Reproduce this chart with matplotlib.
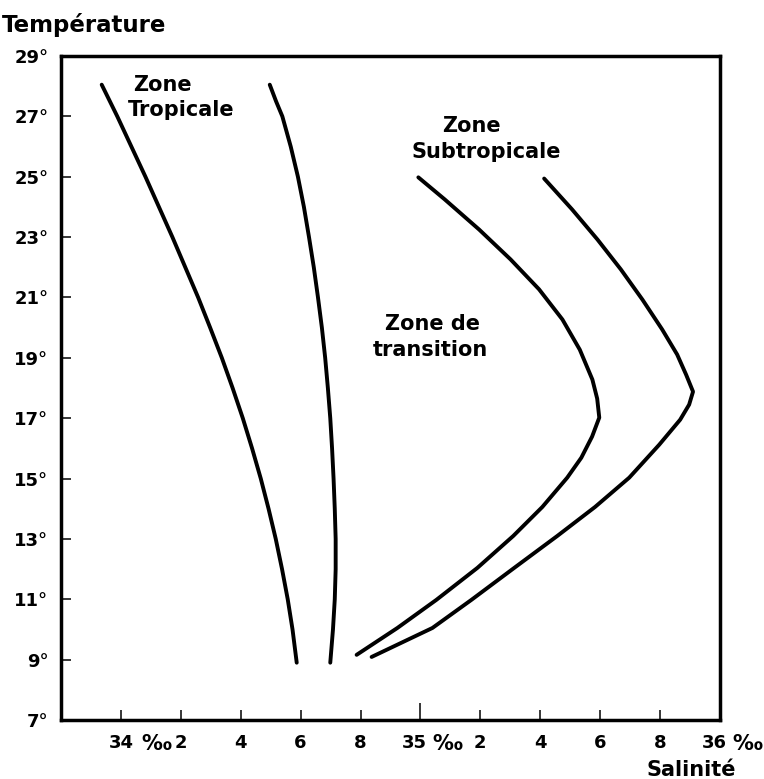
import numpy as np
import matplotlib.pyplot as plt
import matplotlib.transforms as mtransforms

# curves: salinity (per mille) vs temperature (deg C)
trop_left_s = [33.936, 33.988, 34.035, 34.082, 34.127, 34.172, 34.215, 34.258, 34.298, 34.337,
               34.373, 34.407, 34.438, 34.467, 34.493, 34.517, 34.538, 34.557, 34.573, 34.587]
trop_left_t = [28.05, 27.0, 26.0, 25.0, 24.0, 23.0, 22.0, 21.0, 20.0, 19.0,
               18.0, 17.0, 16.0, 15.0, 14.0, 13.0, 12.0, 11.0, 10.0, 8.9]

trop_right_s = [34.497, 34.518, 34.539, 34.567, 34.591, 34.611, 34.628, 34.644, 34.658, 34.671,
                34.682, 34.691, 34.699, 34.705, 34.710, 34.714, 34.717, 34.717, 34.714, 34.708, 34.699]
trop_right_t = [28.05, 27.5, 27.0, 26.0, 25.0, 24.0, 23.0, 22.0, 21.0, 20.0,
                19.0, 18.0, 17.0, 16.0, 15.0, 14.0, 13.0, 12.0, 11.0, 10.0, 8.9]

sub_inner_s = [34.993, 35.081, 35.196, 35.301, 35.396, 35.474, 35.532, 35.574, 35.590, 35.597,
               35.573, 35.537, 35.490, 35.407, 35.310, 35.190, 35.053, 34.923, 34.787]
sub_inner_t = [24.98, 24.25, 23.25, 22.26, 21.27, 20.27, 19.27, 18.28, 17.65, 17.02,
               16.39, 15.69, 15.03, 14.06, 13.10, 12.04, 10.98, 10.05, 9.16]

sub_outer_s = [35.413, 35.506, 35.591, 35.669, 35.741, 35.807, 35.857, 35.887, 35.910,
               35.897, 35.867, 35.797, 35.697, 35.583, 35.457, 35.313, 35.170, 35.040, 34.837]
sub_outer_t = [24.94, 23.92, 22.92, 21.93, 20.93, 19.94, 19.11, 18.44, 17.88,
               17.45, 16.95, 16.12, 15.03, 14.06, 13.10, 12.04, 10.98, 10.05, 9.09]

x_ticks = [34.0, 34.2, 34.4, 34.6, 34.8, 35.0, 35.2, 35.4, 35.6, 35.8, 36.0]
x_labels = ["34", "2", "4", "6", "8", "35", "2", "4", "6", "8", "36"]
y_ticks = [7, 9, 11, 13, 15, 17, 19, 21, 23, 25, 27, 29]
y_labels = [f"{t}°" for t in y_ticks]

permille_pos = [34.117, 35.09, 36.09]

plt.rcParams['font.family'] = "DejaVu Sans"

fig = plt.figure(figsize=(7.64, 7.79), dpi=100)
ax = fig.add_axes([0.0798, 0.0757, 0.8626, 0.8524])

for s, t in [(trop_left_s, trop_left_t), (trop_right_s, trop_right_t),
             (sub_inner_s, sub_inner_t), (sub_outer_s, sub_outer_t)]:
    ax.plot(s, t, color="black", lw=2.8, solid_capstyle="round", solid_joinstyle="round")

ax.set_xlim(33.8, 36.0)
ax.set_ylim(7, 29)

for sp in ax.spines.values():
    sp.set_linewidth(2.5)

ax.set_xticks(x_ticks)
ax.set_xticklabels(x_labels, fontsize=13, fontweight="bold")
ax.set_yticks(y_ticks)
ax.set_yticklabels(y_labels, fontsize=13, fontweight="bold")
ax.tick_params(axis="both", direction="in", length=7, width=1.1)
ax.tick_params(axis="x", pad=10)
ax.tick_params(axis="y", pad=9)
# the 35 tick is drawn longer
ax.xaxis.get_major_ticks()[5].tick1line.set_markersize(12)

# whole-number labels sit a little left of their ticks
shift = mtransforms.ScaledTranslation(-6 / 100, 0, fig.dpi_scale_trans)
for i in (5, 10):
    lab = ax.get_xticklabels()[i]
    lab.set_transform(lab.get_transform() + shift)

# per mille signs next to the whole-number labels
for p in permille_pos:
    ax.text(p, -0.036, "‰", transform=ax.get_xaxis_transform(), ha="center", va="center",
            fontsize=15, fontweight="bold", clip_on=False)

# zone labels
txt = dict(fontsize=15, fontweight="bold", ha="center", va="center")
ax.text(34.14, 28.03, "Zone", **txt)
ax.text(34.20, 27.20, "Tropicale", **txt)
ax.text(35.17, 26.67, "Zone", **txt)
ax.text(35.22, 25.81, "Subtropicale", **txt)
ax.text(35.04, 20.13, "Zone de", **txt)
ax.text(35.033, 19.27, "transition", **txt)

fig.text(0.003, 0.968, "Température", fontsize=16.5, fontweight="bold", ha="left", va="center")
fig.text(0.905, 0.012, "Salinité", fontsize=15, fontweight="bold", ha="center", va="center")

fig.savefig("out.png", dpi=100)
